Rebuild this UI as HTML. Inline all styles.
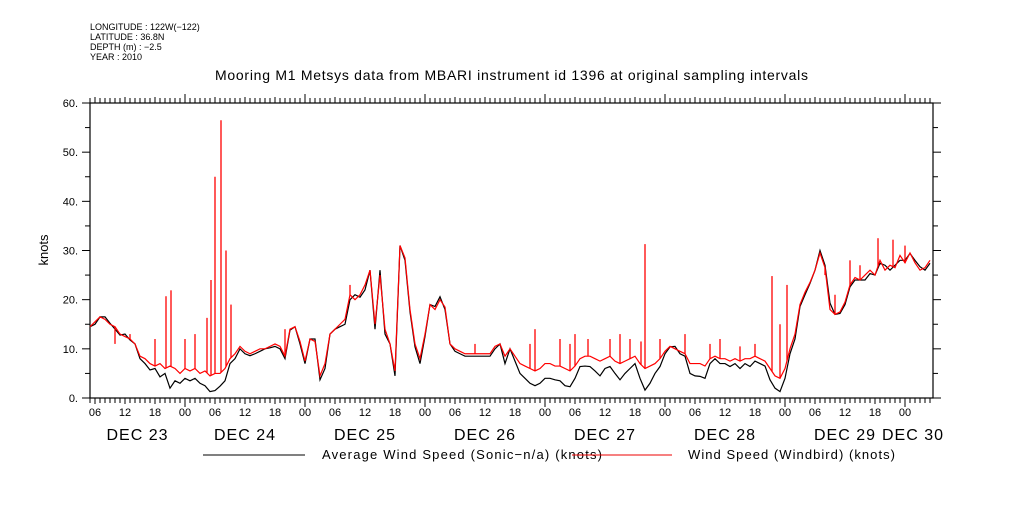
<!DOCTYPE html>
<html><head><meta charset="utf-8"><style>
body{margin:0;background:#fff;width:1009px;height:504px;overflow:hidden}
svg text{font-family:"Liberation Sans",sans-serif;fill:#000}
</style></head><body>
<svg id="chart" width="1009" height="504" xmlns="http://www.w3.org/2000/svg">
<g font-size="9">
<text x="90" y="30">LONGITUDE : 122W(−122)</text>
<text x="90" y="40">LATITUDE : 36.8N</text>
<text x="90" y="50">DEPTH (m) : −2.5</text>
<text x="90" y="60">YEAR : 2010</text>
</g>
<text x="215" y="80" font-size="14" textLength="593" lengthAdjust="spacing">Mooring M1 Metsys data from MBARI instrument id 1396 at original sampling intervals</text>
<text transform="translate(48,250) rotate(-90)" font-size="13" text-anchor="middle">knots</text>
<g id="axes"></g>
<g id="series"></g>
<g>
<line x1="203" y1="455" x2="305" y2="455" stroke="#000"/>
<text x="322" y="459" font-size="13" textLength="280" lengthAdjust="spacing">Average Wind Speed (Sonic−n/a) (knots)</text>
<line x1="572" y1="455" x2="672" y2="455" stroke="#e00"/>
<text x="688" y="459" font-size="13" textLength="207" lengthAdjust="spacing">Wind Speed (Windbird) (knots)</text>
</g>
</svg>
<script>
// hours since Dec 23 05:00
const avgSpeed=[14.5,15,16.5,16.5,15.2,14,12.8,13,11.8,11,8,7,5.7,6,4.3,5,2,3.5,3,4,3.5,4,3,2.5,1.3,1.5,2.4,3.5,7,8,10,9,8.6,9,9.5,10,10.2,10.5,10,8,13.8,14.5,11,7,12,12,3.7,6,13,14,14.5,15,20,21,20.5,22,
26,14,26,13,11,4.5,31,28,17.5,10.4,7,12.5,19,18.6,20.6,18,11,9.5,9,8.5,8.5,8.5,8.5,8.5,8.5,10,11,7,10,7.5,5,4,3,2.5,3,4,4,3.7,3.5,2.5,2.3,4,6.4,6.5,6.4,5.5,4.5,6,6.4,5,3.7,5,6,7,4,1.6,3,5,
6.4,9,10.4,10.5,9,8.5,5,4.5,4.4,4,7,8,7,7,6.4,7,6,7,6.4,7.5,7,6.5,3.7,2,1.3,4,9,12,18.6,21,23.3,26,30,27,19.3,17,17.2,19,22.6,24,24,24,25.3,25,27.4,27,26,27,28,28,29.4,28,26.7,26,27.4];
const windbird=[14.5,15.5,16.5,16,15,14.5,13,12.5,12,11,8.5,8,7,6.5,7,6,6.5,6,5,6,5.5,6,5,5.5,4.5,5,5,6,8,9,10.5,9.5,9,9.5,10,10,10.5,11,10.5,8.5,14,14.5,11.5,7.5,12,11.5,4.5,7,13,14,15,16,21,20,21,23,
26,15,25,14,11,5.5,31,28.5,18,11,8,13,19,18,20,18.5,11,10,9.5,9,9,9,9,9,9,10.5,11,8.5,10,8.5,7,6.5,6,5.5,6,7,7,6.5,6.5,6,5.5,6.5,8,8.5,8.5,8,7.5,8,8.5,7.5,7,7.5,8,8.5,7,6,6.5,7,
8,9.5,10.5,10,9.5,9,7,7,7,6.5,8,8.5,8,8,7.5,8,7.5,8,8,8.5,8,7.5,6,4.5,4,6,10,13,19,21.5,23.5,26,29.5,26.5,18,17,17.5,19.5,23,24.5,24,25,26,25,28,26,27,26.5,29,27.5,29.5,27.5,26,26.5,28];
const spikeHours=[5,8,13,15.2,16.2,19,21,23.4,24.2,25,26.2,27.2,28.2,39,52,77,88,89,94,96,97,99.6,104,106,108,110.2,111,114,116.4,119,124,126,130,133,136.4,138,139.4,147,149,152,154,157.6,160.6,163];
const spikeValues=[11,13,12,20.7,21.9,12,13,16.3,24,45,56.5,30,19,14,23,11,11,14,12,11,13,12,12,13,12,11.5,31.3,12,10.5,13,11,12,10.5,11,24.8,15,23,25,21,28,27,32.5,32.2,31];
const yTicks=[0,10,20,30,40,50,60];
const hourLabels=["06","12","18","00"];
const dayLabels=["DEC 23","DEC 24","DEC 25","DEC 26","DEC 27","DEC 28","DEC 29","DEC 30"];

const L=90,R=933,T=103,B=398,NS="http://www.w3.org/2000/svg";
const xs=h=>L+h*5;
const ys=v=>B-v*(B-T)/60;
const ax=document.getElementById('axes'),se=document.getElementById('series');
function mk(tag,attrs,parent){const e=document.createElementNS(NS,tag);for(const k in attrs)e.setAttribute(k,attrs[k]);parent.appendChild(e);return e;}

const frame=mk('rect',{x:L,y:T,width:R-L,height:B-T,fill:'none',stroke:'#000','stroke-width':1.2},ax);



for(let v=0;v<=60;v+=5){
  const len=v%10===0?8:5;
  mk('line',{x1:L-len,y1:ys(v),x2:L,y2:ys(v),stroke:'#000'},ax);
  mk('line',{x1:R,y1:ys(v),x2:R+len,y2:ys(v),stroke:'#000'},ax);
}
yTicks.forEach(v=>{
  const t=mk('text',{x:L-12,y:ys(v)+4,'font-size':11,'text-anchor':'end'},ax);
  t.textContent=v+'.';
  
  
});
for(let h=0;h*5+L<=R;h++){
  const hr=(h+5)%24;
  const len=hr===0?9:(hr%6===0?6:5);
  mk('line',{x1:xs(h),y1:B,x2:xs(h),y2:B+len,stroke:'#000'},ax);
  mk('line',{x1:xs(h),y1:T,x2:xs(h),y2:T-len,stroke:'#000'},ax);
  if(hr%6===0){
    const t=mk('text',{x:xs(h),y:416,'font-size':11,'text-anchor':'middle'},ax);
    t.textContent=hourLabels[(hr/6+3)%4];
    
    
  }
}
dayLabels.forEach((d,i)=>{
  let s=i===0?0:19+(i-1)*24, e=19+i*24;
  s=Math.max(L,xs(s)); e=Math.min(R,xs(e));
  let cx=(s+e)/2; if(i===7)cx=913;
  const t=mk('text',{x:cx,y:440,'font-size':16,'text-anchor':'middle','letter-spacing':'1'},ax);
  t.textContent=d;
  
  
});

const pb=mk('polyline',{points:avgSpeed.map((v,i)=>xs(i)+','+ys(v)).join(' '),fill:'none',stroke:'#000','stroke-width':1.2},se);


const pr=mk('polyline',{points:windbird.map((v,i)=>xs(i)+','+ys(v)).join(' '),fill:'none',stroke:'#f00','stroke-width':1.2},se);


spikeHours.forEach((h,i)=>{
  const i0=Math.floor(h),f=h-i0;
  const base=windbird[i0]*(1-f)+(windbird[i0+1]??windbird[i0])*f;
  const l=mk('line',{x1:xs(h),y1:ys(base),x2:xs(h),y2:ys(spikeValues[i]),stroke:'#f00','stroke-width':1.3},se);
  
  
});
</script>
</body></html>
